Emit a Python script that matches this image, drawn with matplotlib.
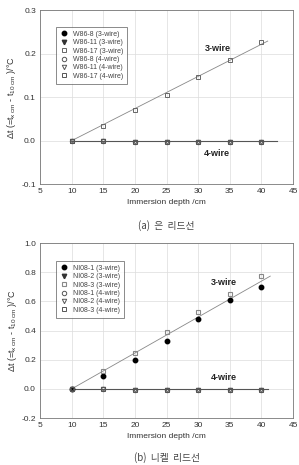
import numpy as np
import matplotlib.pyplot as plt

plt.rcParams['font.family'] = ['Liberation Sans', 'DejaVu Sans']
plt.rcParams['mathtext.fontset'] = 'custom'
plt.rcParams['mathtext.rm'] = 'Liberation Sans'
plt.rcParams['mathtext.it'] = 'Liberation Sans'

depth = [10, 15, 20, 25, 30, 35, 40]

# (a) silver leads
w86_17_3w = [0.0, 0.033, 0.070, 0.105, 0.147, 0.186, 0.226]
w86_8_4w = [0.0, -0.001, -0.002, -0.003, -0.003, -0.002, -0.004]
w86_11_4w = [0.0, -0.001, -0.002, -0.003, -0.004, -0.002, -0.004]
w86_17_4w = [0.0, -0.001, -0.002, -0.003, -0.002, -0.002, -0.003]

# (b) nickel leads
ni08_1_3w = [0.0, 0.09, 0.20, 0.33, 0.48, 0.61, 0.70]
ni08_3_3w = [0.0, 0.12, 0.245, 0.39, 0.525, 0.65, 0.775]
ni08_1_4w = [0.0, 0.0, -0.005, -0.01, -0.01, -0.01, -0.01]
ni08_2_4w = [0.0, 0.0, -0.005, -0.01, -0.01, -0.01, -0.01]
ni08_3_4w = [0.0, 0.0, -0.005, -0.01, -0.01, -0.01, -0.01]

fig = plt.figure(figsize=(2.99, 4.65), dpi=100)
ax1 = fig.add_axes([0.134, 0.604, 0.846, 0.374])
ax2 = fig.add_axes([0.134, 0.101, 0.846, 0.376])

ylabel = r'$\Delta$t (=t$_{x\ \rm cm}$ - t$_{10\ \rm cm}$ )/°C'
fs = 6
ms = 3.2


def style(ax, ylim, yticks):
    ax.set_xlim(5, 45)
    ax.set_xticks(range(5, 50, 5))
    ax.set_ylim(*ylim)
    ax.set_yticks(yticks)
    ax.grid(True, color='#dcdcdc', linewidth=0.5)
    ax.set_axisbelow(True)
    ax.tick_params(labelsize=fs, length=0, pad=3, colors='#333333')
    for s in ax.spines.values():
        s.set_color('#777777')
        s.set_linewidth(0.6)
    ax.set_xlabel('Immersion depth /cm', fontsize=fs, color='#333333', labelpad=3)
    ax.set_ylabel(ylabel, fontsize=fs + 0.5, color='#333333', labelpad=2)


def fit_line(ax, x, y, xend):
    # least squares line forced through (10, 0)
    x = np.asarray(x, float) - 10
    y = np.asarray(y, float)
    k = (x * y).sum() / (x * x).sum()
    xx = np.array([10, xend])
    ax.plot(xx, k * (xx - 10), color='#888888', lw=0.6, zorder=1)


# ---- (a)
fit_line(ax1, depth, w86_17_3w, 41)
ax1.plot([10, 42.5], [0, 0], color='#555555', lw=0.8, zorder=1)
ax1.plot([], [], 'o', color='black', ms=ms, label='W86-8 (3-wire)')
ax1.plot([], [], 'v', color='#333333', ms=ms, label='W86-11 (3-wire)')
ax1.plot(depth, w86_17_3w, 's', mfc='none', mec='#666666', ms=ms, mew=0.7, label='W86-17 (3-wire)')
ax1.plot(depth, w86_8_4w, 'o', mfc='none', mec='#555555', ms=ms, mew=0.7, label='W86-8 (4-wire)')
ax1.plot(depth, w86_11_4w, 'v', mfc='none', mec='#555555', ms=ms, mew=0.7, label='W86-11 (4-wire)')
ax1.plot(depth, w86_17_4w, 's', mfc='none', mec='#555555', ms=ms, mew=0.7, label='W86-17 (4-wire)')
style(ax1, (-0.1, 0.3), [-0.1, 0.0, 0.1, 0.2, 0.3])
ax1.set_yticklabels(['-0.1', '0.0', '0.1', '0.2', '0.3'])
ax1.text(33.1, 0.213, '3-wire', fontsize=6.5, fontweight='bold', ha='center', va='center', color='#222222')
ax1.text(33.0, -0.029, '4-wire', fontsize=6.5, fontweight='bold', ha='center', va='center', color='#222222')
leg = ax1.legend(loc='upper left', bbox_to_anchor=(0.05, 0.925), fontsize=5, frameon=True,
                 fancybox=False, edgecolor='#555555', handlelength=1.0, handletextpad=0.8,
                 labelspacing=0.2, borderpad=0.6, labelcolor='#444444')
leg.get_frame().set_linewidth(0.6)
fig.text(0.557, 0.516, '(a)  은  리드선', fontsize=7, ha='center', va='center', color='#444444',
         family=['Noto Sans CJK KR', 'DejaVu Sans'])

# ---- (b)
fit_line(ax2, depth + depth, ni08_1_3w + ni08_3_3w, 41.4)
ax2.plot([10, 41], [0, 0], color='#555555', lw=0.8, zorder=1)
ax2.plot(depth, ni08_1_3w, 'o', color='black', ms=ms, label='NI08-1 (3-wire)')
ax2.plot([], [], 'v', color='#333333', ms=ms, label='NI08-2 (3-wire)')
ax2.plot(depth, ni08_3_3w, 's', mfc='none', mec='#888888', ms=ms, mew=0.8, label='NI08-3 (3-wire)')
ax2.plot(depth, ni08_1_4w, 'o', mfc='none', mec='#555555', ms=ms, mew=0.7, label='NI08-1 (4-wire)')
ax2.plot(depth, ni08_2_4w, 'v', mfc='none', mec='#555555', ms=ms, mew=0.7, label='NI08-2 (4-wire)')
ax2.plot(depth, ni08_3_4w, 's', mfc='none', mec='#555555', ms=ms, mew=0.7, label='NI08-3 (4-wire)')
style(ax2, (-0.2, 1.0), [-0.2, 0.0, 0.2, 0.4, 0.6, 0.8, 1.0])
ax2.set_yticklabels(['-0.2', '0.0', '0.2', '0.4', '0.6', '0.8', '1.0'])
ax2.text(34.1, 0.733, '3-wire', fontsize=6.5, fontweight='bold', ha='center', va='center', color='#222222')
ax2.text(34.1, 0.081, '4-wire', fontsize=6.5, fontweight='bold', ha='center', va='center', color='#222222')
leg = ax2.legend(loc='upper left', bbox_to_anchor=(0.05, 0.92), fontsize=5, frameon=True,
                 fancybox=False, edgecolor='#555555', handlelength=1.0, handletextpad=0.8,
                 labelspacing=0.2, borderpad=0.6, labelcolor='#444444')
leg.get_frame().set_linewidth(0.6)
fig.text(0.557, 0.017, '(b)  니켈  리드선', fontsize=7, ha='center', va='center', color='#444444',
         family=['Noto Sans CJK KR', 'DejaVu Sans'])

fig.savefig('out.png', dpi=100, facecolor='white')
